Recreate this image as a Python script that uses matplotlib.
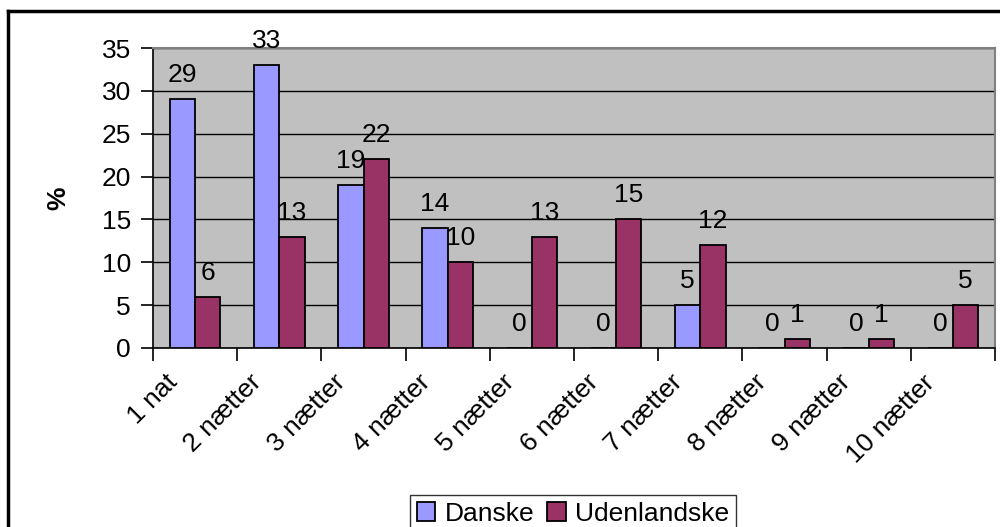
import matplotlib
matplotlib.use("Agg")
import matplotlib.pyplot as plt
import matplotlib.transforms as mtrans
import numpy as np
from matplotlib.lines import Line2D

plt.rcParams['font.family'] = ['Liberation Sans', 'DejaVu Sans']

# data
kategorier = ['1 nat', '2 nætter', '3 nætter', '4 nætter', '5 nætter',
              '6 nætter', '7 nætter', '8 nætter', '9 nætter', '10 nætter']
danske = [29, 33, 19, 14, 0, 0, 5, 0, 0, 0]
udenlandske = [6, 13, 22, 10, 13, 15, 12, 1, 1, 5]

fs = 19

fig = plt.figure(figsize=(10, 5.27), dpi=100)
ax = fig.add_axes([0.153, 0.3397, 0.842, 0.5692])

x = np.arange(len(kategorier))
w = 0.3
b1 = ax.bar(x - w / 2, danske, w, color='#9999FF', edgecolor='black', linewidth=1.3,
            label='Danske', zorder=3)
b2 = ax.bar(x + w / 2, udenlandske, w, color='#993366', edgecolor='black', linewidth=1.3,
            label='Udenlandske', zorder=3)

for bars, vals in [(b1, danske), (b2, udenlandske)]:
    for r, v in zip(bars, vals):
        ax.text(r.get_x() + r.get_width() / 2, v + 2.8, str(v), ha='center', va='center',
                fontsize=fs, zorder=4)

ax.set_facecolor('#C0C0C0')
ax.set_xlim(-0.5, len(kategorier) - 0.5)
ax.set_ylim(0, 35)
ax.set_yticks(range(0, 36, 5))
ax.yaxis.grid(True, color='black', linewidth=1, zorder=1)
ax.set_axisbelow(True)

ax.set_xticks(np.arange(len(kategorier) + 1) - 0.5)
ax.set_xticklabels([])
ax.set_xticks(x, minor=True)
ax.set_xticklabels(kategorier, minor=True, rotation=45, ha='right', va='top',
                   rotation_mode='anchor', fontsize=fs)
ax.tick_params(axis='x', which='minor', length=0, pad=16)
ax.tick_params(axis='x', which='major', length=9, width=1.2, direction='out')
ax.tick_params(axis='y', length=9, width=1.2, direction='out', labelsize=fs, pad=7)

# shift category labels a bit to the left, as in the original
skift = mtrans.ScaledTranslation(-0.30, 0, fig.dpi_scale_trans)
for lbl in ax.get_xticklabels(minor=True):
    lbl.set_transform(lbl.get_transform() + skift)

for s in ['top', 'right']:
    ax.spines[s].set_color('#808080')
    ax.spines[s].set_linewidth(1.5)
for s in ['left', 'bottom']:
    ax.spines[s].set_color('black')
    ax.spines[s].set_linewidth(1.2)

ax.set_ylabel('%', fontsize=fs, fontweight='bold', labelpad=22)

leg = fig.legend(handles=[b1, b2], labels=['Danske', 'Udenlandske'], ncol=2,
                 loc='center', bbox_to_anchor=(0.573, 0.025), fontsize=fs,
                 frameon=True, fancybox=False, handlelength=0.7, handleheight=0.7,
                 handletextpad=0.35, columnspacing=0.5, borderpad=0.25)
leg.get_frame().set_edgecolor('black')
leg.get_frame().set_linewidth(1)

# outer chart frame
fig.add_artist(Line2D([0.0075, 0.0075], [0, 0.979], color='black', linewidth=2.5,
                      transform=fig.transFigure))
fig.add_artist(Line2D([0.0075, 1.0], [0.979, 0.979], color='black', linewidth=2.5,
                      transform=fig.transFigure))

fig.savefig('out.png', dpi=100)
